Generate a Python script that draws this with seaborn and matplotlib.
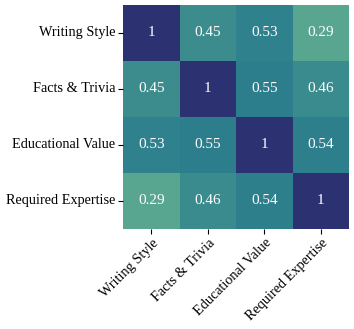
import numpy as np
import pandas as pd
import seaborn as sns
import matplotlib
matplotlib.use("Agg")
import matplotlib.pyplot as plt

plt.rcParams['font.family'] = ['Liberation Serif', 'DejaVu Serif']

labels = ["Writing Style", "Facts & Trivia", "Educational Value", "Required Expertise"]
row_writing = [1.00, 0.45, 0.53, 0.29]
row_facts = [0.45, 1.00, 0.55, 0.46]
row_edu = [0.53, 0.55, 1.00, 0.54]
row_expert = [0.29, 0.46, 0.54, 1.00]

df = pd.DataFrame([row_writing, row_facts, row_edu, row_expert], index=labels, columns=labels)

fig = plt.figure(figsize=(3.54, 3.29), dpi=100)
ax = fig.add_axes([0.348, 0.305, 0.638, 0.68])
sns.heatmap(df, ax=ax, cmap="crest", vmin=0, vmax=1, annot=True, cbar=False,
            annot_kws={"color": "white", "fontsize": 11}, square=False)
ax.tick_params(axis='both', labelsize=10.3, length=3.5, pad=2)
plt.setp(ax.get_xticklabels(), rotation=45, ha='right', rotation_mode='anchor')
plt.setp(ax.get_yticklabels(), rotation=0)
fig.savefig("out.png", dpi=100)
